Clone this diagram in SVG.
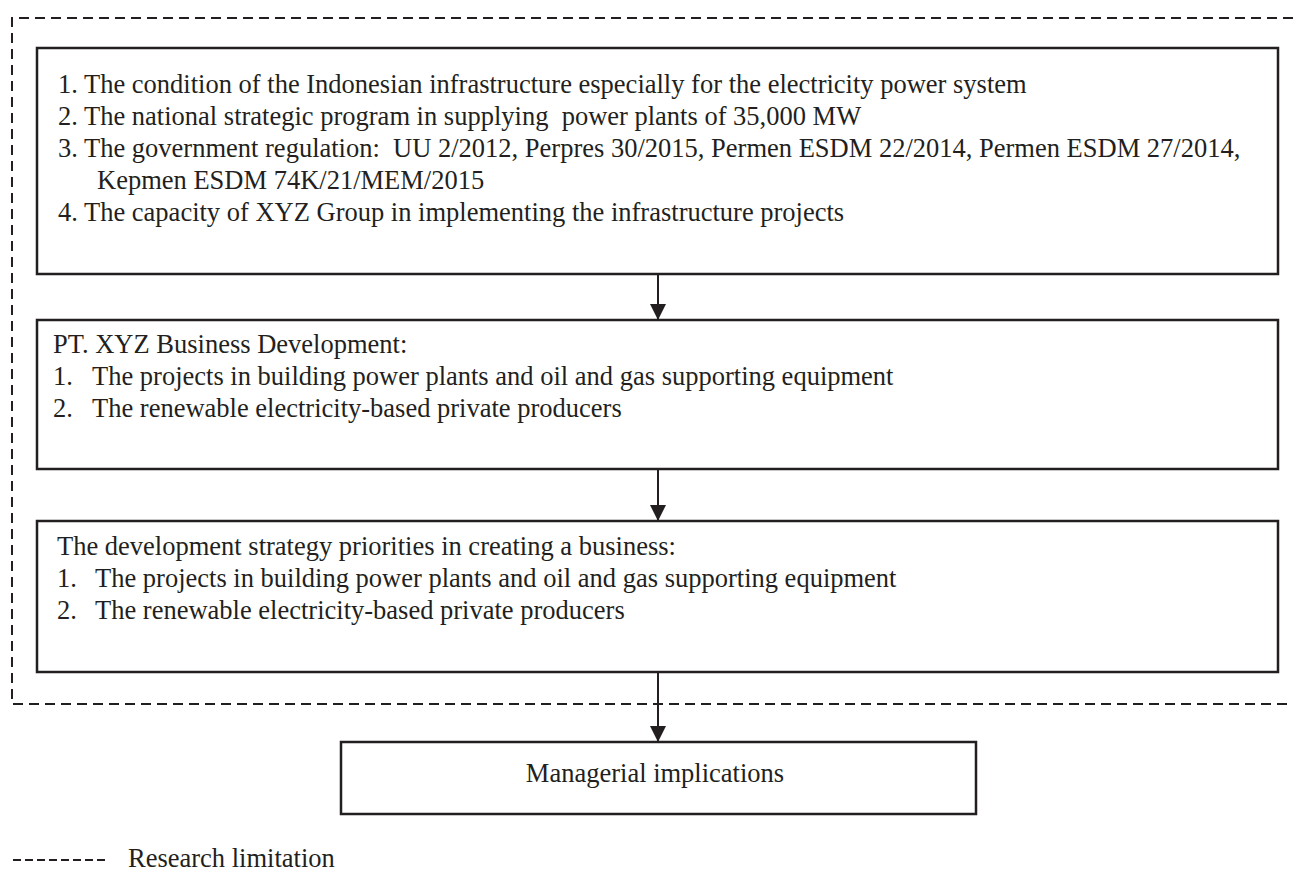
<svg xmlns="http://www.w3.org/2000/svg" width="1293" height="876" viewBox="0 0 1293 876">
<defs>
<style>
.box{fill:#fff;stroke:#231f20;stroke-width:2.5}
.lim{fill:none;stroke:#231f20;stroke-width:2;stroke-dasharray:10 6}
.t{font-family:"Liberation Serif","Times New Roman",serif;font-size:26.5px;fill:#231f20;white-space:pre}
.c{stroke:#231f20;stroke-width:2;fill:none}
</style>
<marker id="ah" viewBox="0 0 16 16" refX="16" refY="8" markerWidth="16" markerHeight="16" markerUnits="userSpaceOnUse" orient="auto">
<path d="M0,0 L16,8 L0,16 Z" fill="#231f20"/>
</marker>
</defs>
<rect width="1293" height="876" fill="#fff"/>
<g id="limitation">
<path class="lim" d="M1293,18 H12 V704 H1293"/>
</g>
<g id="node-context">
<rect class="box" x="37" y="48" width="1241" height="226"/>
<text class="t" x="58" y="93">1. The condition of the Indonesian infrastructure especially for the electricity power system</text>
<text class="t" x="58" y="125">2. The national strategic program in supplying  power plants of 35,000 MW</text>
<text class="t" x="58" y="157">3. The government regulation:  UU 2/2012, Perpres 30/2015, Permen ESDM 22/2014, Permen ESDM 27/2014,</text>
<text class="t" x="97" y="189">Kepmen ESDM 74K/21/MEM/2015</text>
<text class="t" x="58" y="221">4. The capacity of XYZ Group in implementing the infrastructure projects</text>
</g>
<g id="node-business">
<rect class="box" x="37" y="320" width="1241" height="149"/>
<text class="t" x="53" y="353">PT. XYZ Business Development:</text>
<text class="t" x="53" y="385">1.</text>
<text class="t" x="92" y="385">The projects in building power plants and oil and gas supporting equipment</text>
<text class="t" x="53" y="417">2.</text>
<text class="t" x="92" y="417">The renewable electricity-based private producers</text>
</g>
<g id="node-strategy">
<rect class="box" x="37" y="521" width="1241" height="151"/>
<text class="t" x="57" y="555">The development strategy priorities in creating a business:</text>
<text class="t" x="57" y="587">1.</text>
<text class="t" x="95" y="587">The projects in building power plants and oil and gas supporting equipment</text>
<text class="t" x="57" y="619">2.</text>
<text class="t" x="95" y="619">The renewable electricity-based private producers</text>
</g>
<g id="node-implications">
<rect class="box" x="341" y="742" width="635" height="72"/>
<text class="t" x="655" y="782" text-anchor="middle">Managerial implications</text>
</g>
<g id="legend">
<line class="lim" x1="13" y1="860" x2="108" y2="860" style="stroke-dasharray:8 4"/>
<text class="t" x="128" y="867">Research limitation</text>
</g>
<g id="connectors">
<line class="c" x1="658" y1="274" x2="658" y2="320" marker-end="url(#ah)"/>
<line class="c" x1="658" y1="469" x2="658" y2="521" marker-end="url(#ah)"/>
<line class="c" x1="658" y1="672" x2="658" y2="742" marker-end="url(#ah)"/>
</g>
</svg>
